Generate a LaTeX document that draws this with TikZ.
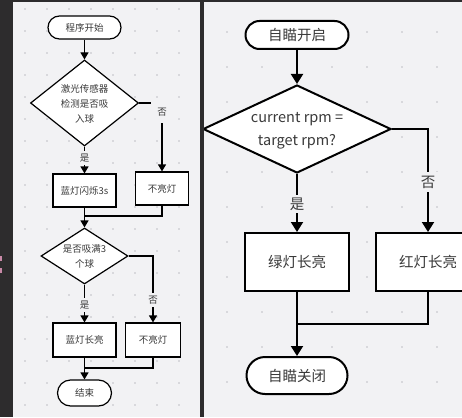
\documentclass[tikz,border=0pt]{standalone}
\usepackage{fontspec}
\setmainfont{Noto Sans CJK SC}
\usetikzlibrary{arrows.meta,shapes.geometric}
\definecolor{darkbg}{HTML}{2D2C2D}
\definecolor{panel}{HTML}{F2F2F4}
\definecolor{dotc}{HTML}{D8D8DC}
\definecolor{pinkc}{HTML}{C98AA8}
\definecolor{txtc}{HTML}{3A3A3A}
\tikzset{
  lnode/.style={draw, line width=1.2pt, fill=white, text=txtc, inner sep=0pt, align=center, font=\fontsize{9.5}{15}\selectfont},
  rnode/.style={draw, line width=2pt, fill=white, text=txtc, inner sep=0pt, align=center, font=\fontsize{14.5}{23}\selectfont},
  lterm/.style={lnode, rounded corners=#1},
  rterm/.style={rnode, rounded corners=#1},
  ldia/.style={lnode, shape=diamond},
  rdia/.style={rnode, shape=diamond},
  ltxt/.style={inner sep=0pt, text=txtc, align=center, font=\fontsize{9.5}{15}\selectfont},
  rtxt/.style={inner sep=0pt, text=txtc, align=center, font=\fontsize{14.5}{23}\selectfont},
  llbl/.style={fill=panel, text=txtc, inner sep=2.5pt, font=\fontsize{9.5}{11}\selectfont},
  rlbl/.style={fill=panel, text=txtc, inner sep=3pt, font=\fontsize{14.5}{16}\selectfont},
  lline/.style={line width=1.2pt},
  rline/.style={line width=2pt},
  larr/.style={lline, -{Triangle[width=8pt,length=7pt]}},
  rarr/.style={rline, -{Triangle[width=12pt,length=10pt]}},
}
\begin{document}
\begin{tikzpicture}[x=1pt,y=-1pt]
\useasboundingbox (0,0) rectangle (462,417);
\fill[darkbg] (0,0) rectangle (462,417);
\fill[panel] (13,2) rectangle (200,417);
\fill[panel] (204,2) rectangle (462,417);
\fill[pinkc] (0,256) rectangle (2,261);
\fill[pinkc] (0,268) rectangle (2,273);
% dots
\foreach \xx in {25,47,...,190}{\foreach \yy in {9,31,...,410}{\fill[dotc] (\xx-0.8,\yy-0.8) rectangle (\xx+0.8,\yy+0.8);}}
\foreach \xx in {227,262,...,460}{\foreach \yy in {32,67,...,416}{\fill[dotc] (\xx-0.8,\yy-0.8) rectangle (\xx+0.8,\yy+0.8);}}
% ---------- left panel ----------
\node[lterm=11.5pt, minimum width=73pt, minimum height=23pt] (s1) at (84.5,27.5) {程序开始};
\node[ldia, minimum width=108pt, minimum height=86pt] (d1) at (84.5,103) {};
\node[ltxt] (d1t) at (84.5,104) {激光传感器\\检测是否吸\\入球};
\node[lnode, minimum width=63pt, minimum height=33pt] (b1) at (84.5,190.5) {蓝灯闪烁3s};
\node[lnode, minimum width=53pt, minimum height=33pt] (b2) at (162,188.5) {不亮灯};
\node[ldia, minimum width=87pt, minimum height=56pt] (d2) at (84.5,256) {};
\node[ltxt] (d2t) at (84.5,256.5) {是否吸满3\\个球};
\node[lnode, minimum width=63pt, minimum height=34pt] (b3) at (84.5,340) {蓝灯长亮};
\node[lnode, minimum width=55pt, minimum height=34pt] (b4) at (153,340) {不亮灯};
\node[lterm=13pt, minimum width=54pt, minimum height=26pt] (e1) at (84.5,393) {结束};
\coordinate (m1) at (84.5,216);
\coordinate (m2) at (84.5,368);
\draw[larr] (s1) -- (d1);
\draw[larr] (d1.east) -| (b2.north);
\node[llbl, inner sep=6.5pt] (n1) at (162,112) {否};
\draw[larr] (d1.south) -- (b1.north);
\node[llbl] (y1) at (84.5,158) {是};
\draw[larr] (b1.south) -- (d2.north);
\draw[lline] (b2.south) |- (m1);
\draw[larr] (d2.east) -| (b4.north);
\node[llbl] (n2) at (153,300) {否};
\draw[larr] (d2.south) -- (b3.north);
\node[llbl] (y2) at (84.5,305) {是};
\draw[larr] (b3.south) -- (e1.north);
\draw[lline] (b4.south) |- (m2);
% ---------- right panel ----------
\begin{scope}
\clip (204,2) rectangle (462,417);
\node[rterm=14pt, minimum width=103pt, minimum height=28pt] (s2) at (297,35) {自瞄开启};
\node[rdia, minimum width=188pt, minimum height=88pt] (d3) at (297,129) {};
\node[rtxt] (d3t) at (297,131) {current rpm =\\target rpm?};
\node[rnode, minimum width=104pt, minimum height=58pt] (r1) at (297,262) {绿灯长亮};
\node[rnode, minimum width=104pt, minimum height=58pt] (r2) at (428,262) {红灯长亮};
\node[rterm=18.5pt, minimum width=101pt, minimum height=37pt] (e2) at (297,375.5) {自瞄关闭};
\coordinate (m3) at (297,324);
\draw[rarr] (s2) -- (d3);
\draw[rarr] (d3.east) -| (r2.north);
\node[rlbl, inner sep=4pt] (n3) at (428,182) {否};
\draw[rarr] (d3.south) -- (r1.north);
\node[rlbl] (y3) at (297,204) {是};
\draw[rarr] (r1.south) -- (e2.north);
\draw[rline] (r2.south) |- (m3);
\end{scope}
\end{tikzpicture}
\end{document}
